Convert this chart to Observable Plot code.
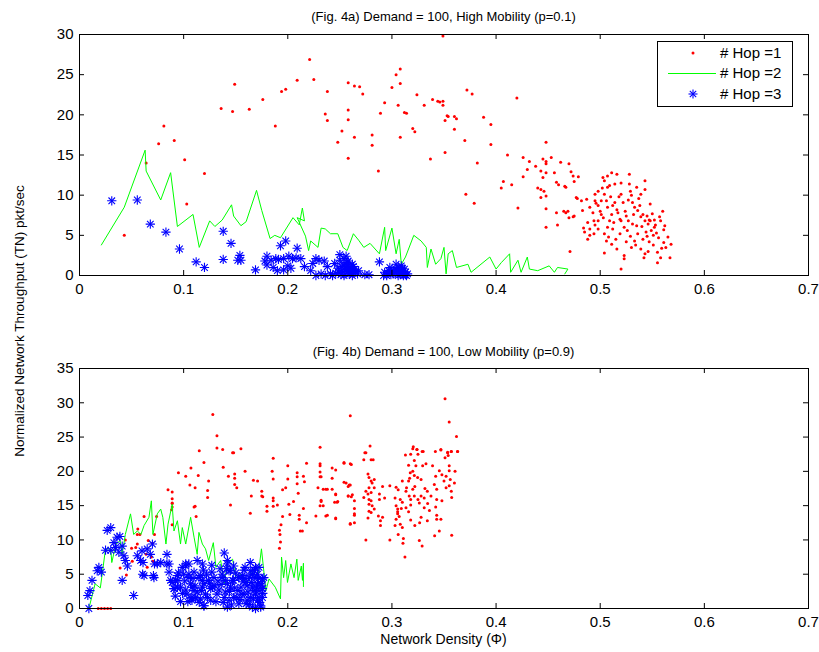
<!DOCTYPE html>
<html><head><meta charset="utf-8">
<script src="https://cdn.jsdelivr.net/npm/d3@7"></script>
<script src="https://cdn.jsdelivr.net/npm/@observablehq/plot@0.6"></script>
<style>
body{margin:0;background:#fff;}
#wrap{position:relative;width:819px;height:652px;font-family:"Liberation Sans",Arial,sans-serif;color:#000;}
.t{position:absolute;white-space:nowrap;line-height:16px;}
#legend{position:absolute;left:657px;top:41px;width:134px;height:64px;border:1px solid #000;background:#fff;}
#legend .row{position:absolute;left:0;width:134px;height:20px;}
#legend .row span{position:absolute;left:62px;top:2px;font-size:15px;line-height:17px;}
#legend svg{position:absolute;left:0;top:0;}
</style></head>
<body><div id="wrap"></div>
<script>
// ---------- data ----------
const xTicks = [0, 0.1, 0.2, 0.3, 0.4, 0.5, 0.6, 0.7];
const yTicksTop = [0, 5, 10, 15, 20, 25, 30];
const yTicksBottom = [0, 5, 10, 15, 20, 25, 30, 35];
const titleTop = "(Fig. 4a) Demand = 100, High Mobility (p=0.1)";
const titleBottom = "(Fig. 4b) Demand = 100, Low Mobility (p=0.9)";
const xLabel = "Network Density (\u03A6)";
const yLabel = "Normalized Network Throughput (TN) pkt/sec";
const seriesNames = ["# Hop =1", "# Hop =2", "# Hop =3"];

// Fig 4a, hop 1 (red dots)
const topHop1 = [
[0.349,29.8],[0.221,26.9],[0.225,24.4],[0.209,24.3],[0.149,23.8],[0.194,22.9],[0.198,23.2],[0.176,21.9],[0.238,22.9],[0.136,20.8],[0.147,20.4],[0.163,20.7],[0.188,18.6],[0.081,18.6],[0.076,16.4],[0.091,16.8],[0.101,14.4],[0.064,14.0],[0.120,12.7],[0.103,8.9],[0.043,5.0],
[0.258,24.0],[0.264,23.6],[0.269,23.5],[0.272,22.6],[0.236,20.1],[0.238,19.3],[0.258,20.6],[0.258,19.4],[0.252,18.0],[0.248,16.6],[0.264,17.2],[0.258,14.6],[0.281,17.5],[0.281,16.2],[0.287,13.0],[0.289,20.2],[0.293,21.5],[0.300,23.4],[0.304,25.0],[0.308,25.7],[0.308,23.9],[0.306,21.2],[0.312,20.3],[0.314,20.2],[0.308,17.2],[0.320,18.3],[0.322,17.9],[0.324,22.5],[0.331,21.2],[0.339,21.9],[0.344,21.7],[0.346,21.6],[0.349,21.7],[0.349,21.2],[0.353,19.9],[0.351,19.3],[0.337,14.5],[0.351,15.3],
[0.354,19.8],[0.360,19.8],[0.362,19.5],[0.360,18.2],[0.370,16.8],[0.372,23.1],[0.377,22.6],[0.388,19.7],[0.395,18.8],[0.395,16.3],[0.382,14.0],[0.371,10.1],[0.379,9.0],[0.411,15.0],[0.420,22.1],[0.407,11.7],[0.405,10.9],[0.415,11.3],[0.421,8.4],[0.426,14.7],[0.432,14.2],[0.426,12.3],[0.430,13.2],[0.438,13.6],[0.445,14.5],[0.448,14.2],[0.448,13.9],[0.453,14.7],[0.448,16.6],[0.443,13.0],[0.445,12.2],[0.448,12.8],[0.440,10.9],[0.443,10.7],[0.443,9.7],[0.446,10.5],[0.448,9.9],[0.448,8.3],[0.448,6.0],[0.456,12.8],[0.458,11.6],[0.460,11.3],[0.462,14.1],[0.466,11.1],[0.467,11.0],[0.470,13.9],[0.472,12.9],[0.474,12.4],[0.475,11.7],[0.479,12.3],[0.458,7.8],[0.459,6.3],[0.465,8.0],[0.467,7.8],[0.470,7.2],[0.469,8.0],[0.471,3.0],[0.474,7.3],[0.475,7.4],[0.477,9.7],[0.478,9.6],[0.482,9.3],[0.483,8.1],[0.484,5.9],[0.485,5.4],[0.487,9.5],[0.488,6.6],[0.490,5.0],
[0.5026,12.2],[0.507,12.4],[0.511,12.8],[0.504,11.8],[0.509,11.2],[0.507,11.0],[0.498,10.5],[0.495,10.1],[0.504,10.1],[0.506,9.3],[0.501,9.3],[0.495,9.3],[0.490,8.5],[0.493,7.8],[0.498,8.7],[0.501,7.6],[0.498,6.8],[0.495,6.3],[0.494,5.2],[0.490,5.8],[0.507,8.5],[0.511,7.6],[0.512,8.7],[0.514,9.1],[0.516,12.6],[0.514,11.4],[0.520,10.1],[0.522,9.1],[0.517,7.8],[0.509,6.8],[0.507,6.0],[0.512,5.8],[0.504,5.2],[0.506,4.3],[0.504,2.8],[0.511,3.9],[0.515,4.5],[0.519,5.2],[0.520,6.8],[0.523,6.0],[0.525,7.4],[0.528,12.6],[0.528,11.4],[0.529,10.5],[0.530,10.0],[0.531,9.1],[0.533,8.5],[0.531,6.4],[0.535,6.2],[0.536,5.2],[0.533,4.3],[0.530,3.5],[0.525,4.2],[0.523,2.5],[0.520,0.8],[0.523,2.1],[0.539,10.1],[0.543,11.8],[0.543,10.7],[0.538,8.7],[0.541,7.6],[0.539,7.3],[0.543,6.8],[0.546,6.4],[0.547,6.9],[0.548,8.9],[0.548,6.8],[0.544,5.4],[0.541,4.5],[0.539,3.3],[0.543,2.7],[0.542,2.2],[0.546,3.0],[0.547,4.2],[0.551,5.0],[0.552,6.0],[0.553,6.3],[0.556,4.7],[0.555,2.9],[0.558,2.2],[0.555,1.6],[0.560,8.0],[0.561,5.7],[0.561,4.1],[0.563,3.5],[0.568,3.9],[0.567,2.2],[0.557,7.3],[0.558,6.8],[0.552,6.9],[0.494,6.8],[0.488,4.5],[0.498,5.8],
[0.500,8.0],[0.503,7.2],[0.510,9.8],[0.516,8.2],[0.519,7.0],[0.524,8.0],[0.527,6.8],[0.532,7.6],[0.536,8.1],[0.537,9.6],[0.540,6.1],[0.545,7.4],[0.549,5.6],[0.554,5.3],[0.526,5.6],[0.529,4.9],[0.534,3.8],[0.545,4.9],[0.513,6.6],[0.518,9.8],[0.502,10.9],[0.496,9.0],[0.520,11.5],[0.535,11.0],[0.527,9.4],[0.550,7.7],[0.562,6.2],[0.565,4.8],[0.559,3.4],[0.551,3.8],[0.516,3.3],[0.508,4.8]
];

// Fig 4a, hop 2 (green line, in plotting order)
const topHop2 = [
[0.021,3.8],[0.043,8.5],[0.063,15.6],[0.064,13.0],[0.078,9.4],[0.0875,12.8],[0.094,6.1],[0.109,7.6],[0.115,3.5],[0.125,6.8],[0.130,6.1],[0.137,6.9],[0.146,8.8],[0.148,7.4],[0.155,6.2],[0.160,6.7],[0.170,10.6],[0.175,8.1],[0.183,4.6],[0.1875,5.0],[0.193,4.7],[0.205,7.2],[0.211,6.3],[0.214,8.4],[0.216,6.8],[0.209,7.2],[0.217,4.9],[0.220,3.1],[0.222,4.3],[0.229,3.5],[0.232,5.9],[0.236,5.8],[0.241,5.2],[0.248,5.2],[0.253,3.5],[0.257,3.1],[0.263,5.2],[0.268,4.4],[0.273,3.5],[0.279,4.0],[0.288,2.7],[0.293,6.0],[0.294,3.1],[0.300,5.9],[0.304,2.7],[0.307,4.5],[0.309,1.4],[0.313,2.3],[0.321,5.0],[0.328,4.3],[0.333,3.5],[0.334,1.0],[0.3375,3.3],[0.342,1.4],[0.347,2.1],[0.350,3.5],[0.352,0.2],[0.354,2.7],[0.358,3.1],[0.362,1.0],[0.373,1.4],[0.376,0.4],[0.394,2.3],[0.400,0.8],[0.405,1.6],[0.413,2.7],[0.414,0.4],[0.421,1.9],[0.424,0.4],[0.430,2.3],[0.432,0.8],[0.440,0.6],[0.451,1.2],[0.456,0.4],[0.459,1.0],[0.469,0.8],[0.466,0.2]
];

// Fig 4a, hop 3 (blue asterisks)
const topHop3 = [
[0.031,9.3],[0.0555,9.4],[0.068,6.4],[0.083,5.4],[0.096,3.3],[0.112,1.7],[0.120,1.0],[0.138,5.5],[0.1455,4.0],[0.138,2.0],[0.154,2.5],[0.155,1.9],[0.152,1.9],[0.169,0.7],[0.180,2.4],[0.180,1.3],[0.186,1.0],[0.1885,2.1],[0.193,3.7],[0.198,4.3],[0.196,2.1],[0.200,1.2],[0.196,0.7],[0.2045,2.1],[0.209,3.4],[0.2125,2.1],[0.216,1.1],[0.222,0.6],[0.227,2.1],[0.230,1.9],[0.235,1.8],[0.238,1.1],[0.232,0.2],[0.241,0.2],[0.250,1.9],[0.254,2.1],[0.257,1.6],[0.259,1.0],[0.252,0.6],[0.260,0.4],[0.264,0.8],[0.267,0.2],[0.255,0.2],[0.262,1.4],[0.274,0.1],[0.278,0.1],[0.288,1.7],[0.293,0.4],[0.297,0.6],[0.301,0.2],[0.304,0.8],[0.307,0.4],[0.310,0.2],[0.313,0.4],[0.314,0.0],[0.306,0.0],[0.315,0.2],[0.295,0.0],
[0.248,0.9],[0.253,1.3],[0.258,0.5],[0.261,0.9],[0.256,1.1],[0.263,0.3],[0.246,0.3],[0.251,0.1],[0.300,0.7],[0.303,0.3],[0.309,0.6],[0.311,0.0],[0.299,0.1],[0.306,1.0],[0.312,0.8],[0.243,0.0],[0.236,0.0],[0.227,0.0],[0.184,1.9],[0.191,2.0],[0.201,2.4],[0.208,2.2],[0.203,0.9],[0.178,1.8],[0.190,0.6],[0.224,1.5],
[0.245,1.5],[0.249,0.4],[0.252,1.1],[0.255,0.7],[0.257,1.3],[0.259,0.2],[0.261,0.6],[0.263,1.1],[0.265,0.5],[0.258,1.8],[0.254,0.0],[0.262,0.0],[0.268,0.6],[0.256,2.4],[0.250,2.6],[0.302,0.5],[0.305,0.6],[0.308,0.1],[0.310,0.9],[0.313,0.1],[0.296,0.3],[0.292,0.0],[0.298,1.0],[0.304,1.4],[0.309,1.2]
];

// Fig 4b, hop 1 (red dots)
const botHop1 = [
[0.018,0],[0.021,0],[0.024,0],[0.027,0],[0.030,0],
[0.351,30.6],[0.355,27.2],[0.260,28.1],[0.128,28.3],[0.132,25.2],[0.362,25.1],[0.132,23.4],[0.1375,23.2],[0.115,23.0],[0.147,22.7],[0.148,22.7],[0.155,23.3],[0.231,23.5],[0.274,22.7],[0.279,23.7],[0.282,21.7],[0.313,22.4],[0.320,23.3],[0.324,23.2],[0.330,22.9],[0.347,23.2],[0.3535,22.8],[0.357,22.9],[0.363,22.9],[0.354,22.3],[0.351,22.0],
[0.1195,21.3],[0.107,20.5],[0.095,19.8],[0.102,19.3],[0.114,19.4],[0.106,18.0],[0.111,17.6],[0.124,18.6],[0.123,17.2],[0.085,17.3],[0.089,17.0],[0.089,16.0],[0.089,15.4],[0.089,14.8],[0.111,14.9],[0.112,13.4],[0.123,16.2],[0.138,20.6],[0.143,19.3],[0.149,19.6],[0.149,19.0],[0.151,17.6],[0.149,18.1],[0.159,20.0],[0.145,15.1],[0.164,13.9],[0.165,16.4],[0.167,18.7],[0.171,18.6],[0.175,17.1],[0.175,16.4],[0.176,16.3],[0.186,21.9],[0.180,14.9],[0.180,14.2],[0.185,20.0],[0.186,18.9],[0.186,16.1],[0.186,15.7],[0.186,14.9],[0.190,15.1],[0.192,11.4],[0.1935,12.2],[0.1925,10.8],[0.193,9.7],[0.192,8.8],[0.195,17.3],[0.195,13.4],[0.198,17.6],[0.200,18.9],[0.200,20.8],[0.201,15.2],[0.202,13.7],[0.2055,15.6],[0.209,19.8],[0.209,19.2],[0.209,18.2],[0.210,16.8],[0.211,13.6],[0.212,11.3],[0.214,11.3],[0.211,13.0],[0.215,19.3],[0.216,18.5],[0.218,21.2],[0.218,12.5],[0.215,14.6],[0.227,13.5],[0.229,17.6],[0.231,21.1],[0.231,20.8],[0.231,19.9],[0.231,19.2],[0.232,15.8],[0.231,15.0],[0.2365,17.4],[0.2365,13.5],[0.2426,20.5],[0.246,16.6],[0.2474,15.5],[0.246,13.2],[0.2426,17.4],[0.254,21.2],[0.256,18.3],[0.259,18.0],[0.260,18.0],[0.258,16.4],[0.261,21.0],[0.261,16.3],[0.260,12.3],[0.264,15.7],[0.264,13.8],[0.264,12.5],
[0.275,22.7],[0.273,21.7],[0.280,21.7],[0.254,21.3],[0.260,21.1],[0.246,20.2],[0.232,19.2],[0.2426,19.0],[0.254,18.4],[0.258,17.8],[0.238,17.4],[0.234,17.4],[0.246,16.7],[0.258,16.4],[0.262,16.6],[0.232,15.6],[0.245,15.5],[0.248,15.6],[0.234,15.0],[0.264,14.6],[0.264,13.6],[0.238,13.6],[0.246,13.1],[0.260,12.4],[0.275,10.0],
[0.277,19.6],[0.278,19.1],[0.280,18.6],[0.283,18.8],[0.281,18.3],[0.278,17.6],[0.275,17.1],[0.277,16.7],[0.280,16.9],[0.283,17.6],[0.278,15.9],[0.280,15.7],[0.278,15.2],[0.281,15.0],[0.283,14.5],[0.278,14.2],[0.280,14.0],[0.277,13.2],[0.273,16.2],[0.287,13.5],[0.289,12.8],[0.289,12.1],[0.291,13.3],[0.288,15.9],[0.288,16.7],[0.293,16.1],[0.291,17.8],[0.298,17.9],[0.298,10.0],[0.303,16.1],[0.304,17.7],[0.306,17.3],[0.310,18.6],[0.308,15.9],[0.310,15.5],[0.304,15.0],
[0.3055,14.5],[0.3055,14.1],[0.3055,13.8],[0.309,14.6],[0.3135,14.7],[0.307,13.4],[0.304,13.0],[0.303,12.1],[0.308,12.3],[0.310,11.8],[0.306,10.8],[0.311,10.2],[0.3106,9.5],[0.3125,7.5],[0.3135,17.1],[0.314,17.6],[0.3166,16.4],[0.316,18.6],[0.317,19.0],[0.3176,19.8],[0.316,20.9],[0.318,22.5],[0.3205,23.6],[0.324,23.2],[0.325,22.5],[0.329,22.9],[0.3215,21.6],[0.323,20.8],[0.320,20.0],[0.3215,19.4],[0.322,17.8],[0.320,17.4],[0.318,15.9],[0.3215,16.4],[0.318,15.1],[0.316,14.1],[0.318,12.9],[0.322,12.1],[0.3266,12.5],[0.3263,9.9],[0.329,9.1],
[0.3247,19.1],[0.328,18.8],[0.3295,20.8],[0.3327,21.1],[0.3317,17.5],[0.334,17.1],[0.328,16.4],[0.325,15.9],[0.3263,15.4],[0.331,16.1],[0.3343,15.3],[0.331,14.7],[0.336,14.3],[0.328,13.3],[0.334,12.8],[0.339,20.8],[0.342,19.3],[0.3407,18.1],[0.3375,16.4],[0.343,17.4],[0.343,15.9],[0.342,14.8],[0.3455,20.1],[0.348,19.5],[0.3417,22.9],[0.347,23.1],[0.343,13.6],[0.343,13.0],[0.347,13.0],[0.341,10.6],[0.3455,11.3],[0.348,15.7],[0.350,18.6],[0.352,19.3],[0.355,20.8],[0.355,20.1],[0.3535,22.7],[0.357,22.9],[0.356,18.8],[0.355,17.9],[0.357,17.1],[0.3574,16.2],[0.352,17.6],[0.360,18.3],[0.3606,20.0],[0.3574,10.7],[0.363,22.9],
[0.089,15.3],[0.0885,14.4],[0.110,14.8],[0.062,13.4],[0.074,13.4],[0.089,12.2],[0.056,11.6],[0.0555,10.8],[0.058,10.8],[0.072,10.8],[0.066,9.9],[0.070,9.5],[0.0555,9.4],[0.054,8.9],[0.050,8.8],[0.044,10.0],[0.069,7.5],[0.0705,6.9],[0.065,6.0],[0.0507,6.9],[0.045,4.9],[0.039,5.9],[0.064,7.9]
];

// Fig 4b, hop 2 (green line, in plotting order)
const botHop2 = [
[0.003,0],[0.009,0],[0.015,3.6],[0.020,3.0],[0.025,8.7],[0.030,8.7],[0.031,6.7],[0.035,9.4],[0.039,9.9],[0.041,7.9],[0.044,10.8],[0.049,13.8],[0.052,10.8],[0.0555,11.3],[0.059,10.8],[0.062,12.1],[0.0667,13.3],[0.069,15.7],[0.0705,10.8],[0.0747,13.8],[0.078,14.5],[0.080,13.3],[0.083,9.4],[0.085,12.3],[0.089,15.2],[0.0907,11.3],[0.094,12.8],[0.097,9.4],[0.0987,11.8],[0.102,9.4],[0.1067,13.3],[0.110,10.4],[0.113,7.9],[0.1147,11.1],[0.118,9.4],[0.121,8.7],[0.124,7.0],[0.1285,9.6],[0.131,6.0],[0.1356,7.0],[0.139,3.6],[0.142,6.5],[0.147,7.2],[0.150,4.5],[0.155,5.0],[0.161,3.6],[0.166,5.8],[0.171,4.1],[0.1747,8.7],[0.1766,6.0],[0.179,2.6],[0.182,4.3],[0.188,3.1],[0.193,1.4],[0.194,7.5],[0.196,4.5],[0.198,7.0],[0.1997,3.8],[0.203,6.5],[0.206,4.5],[0.2087,7.2],[0.210,4.1],[0.213,6.2],[0.2141,4.1],[0.215,6.6],[0.215,3.2]
];

// Fig 4b, hop 3 (blue asterisks)
const botHop3 = [
[0.009,0],[0.008,1.9],[0.010,2.6],[0.012,4.1],[0.017,5.5],[0.0186,6.0],[0.021,5.3],[0.0266,11.4],[0.030,11.8],[0.025,8.5],[0.030,8.5],[0.033,9.6],[0.036,10.4],[0.0388,10.5],[0.0346,8.9],[0.0378,8.2],[0.041,9.1],[0.0426,7.7],[0.044,7.0],[0.046,6.2],[0.041,4.1],[0.052,1.9],[0.0555,7.7],[0.0587,7.0],[0.060,8.4],[0.062,4.8],[0.065,8.7],[0.068,7.9],[0.070,9.4],[0.0715,4.5],[0.0747,6.5],[0.086,6.5],[0.086,5.3],[0.089,3.8],[0.0907,2.9],[0.0923,4.1],[0.094,3.1],[0.0987,6.0],[0.102,6.2],[0.105,6.5],[0.105,4.5],[0.1067,3.6],[0.102,2.7],[0.108,1.6],[0.113,2.4],[0.116,4.8],[0.118,3.1],
[0.084,7.9],[0.078,6.7],[0.072,6.5],[0.061,6.7],[0.0606,5.0],[0.071,4.8],[0.084,6.5],[0.0945,4.1],[0.113,7.0],[0.139,8.1],[0.142,7.0],[0.164,6.7],[0.169,6.0],[0.159,6.0],
[0.110,5.3],[0.1147,4.5],[0.1195,3.6],[0.124,4.1],[0.1276,3.1],[0.121,2.1],[0.116,1.4],[0.126,1.2],[0.1195,0.4],[0.110,2.6],[0.108,1.2],[0.142,6.5],[0.145,5.5],[0.137,4.5],[0.142,3.6],[0.147,4.1],[0.140,2.4],[0.1436,1.2],[0.148,1.6],[0.153,4.5],[0.1564,4.8],[0.160,3.8],[0.155,3.1],[0.158,2.1],[0.153,0.7],[0.161,1.2],[0.1644,5.5],[0.1676,4.5],[0.166,3.1],[0.169,2.1],[0.1724,2.6],[0.171,1.2],[0.174,0.4],[0.166,0.2],[0.169,0],[0.1757,1.6],[0.174,3.6],[0.171,5.0],[0.1757,4.3],[0.1724,6.0],
[0.0875,4.1],[0.0907,2.9],[0.094,4.8],[0.097,3.1],[0.102,6.5],[0.105,5.0],[0.103,2.1],[0.108,3.1],[0.1115,1.6],[0.107,1.5],[0.118,4.1],[0.1195,0.4],[0.126,2.9],[0.129,4.5],[0.132,2.1],[0.137,5.0],[0.139,1.6],[0.1436,5.5],[0.145,3.1],[0.148,4.1],[0.142,0.2],[0.153,4.5],[0.156,2.1],[0.160,0.7],[0.161,3.3],[0.166,5.0],[0.1676,2.6],[0.171,3.6],[0.1724,1.6],[0.174,0.2],[0.1757,2.9],[0.177,4.5],[0.164,1.6],[0.151,1.6],
[0.092,1.8],[0.095,5.2],[0.099,2.2],[0.101,4.0],[0.104,1.0],[0.109,4.4],[0.111,3.3],[0.115,0.9],[0.117,2.6],[0.119,5.6],[0.122,4.9],[0.123,1.6],[0.125,3.7],[0.127,5.3],[0.130,3.3],[0.131,1.0],[0.133,4.0],[0.134,2.7],[0.136,3.5],[0.138,0.9],[0.140,4.1],[0.141,5.8],[0.144,2.5],[0.146,0.5],[0.149,3.0],[0.150,5.2],[0.152,2.6],[0.154,1.3],[0.157,3.9],[0.159,4.4],[0.162,2.4],[0.163,0.6],[0.165,3.8],[0.167,1.4],[0.168,5.5],[0.170,3.0],[0.172,4.4],[0.173,0.9],[0.175,3.4],[0.176,2.2],[0.163,4.6],[0.158,5.6],[0.148,6.2],[0.135,5.8],[0.127,6.3],[0.118,6.5],[0.100,5.0],[0.097,1.0]
];

// ---------- drawing ----------
const FONT = '"Liberation Sans", Arial, sans-serif';
const fmt = d => d3.format("~g")(d);
const RED = "#ff0000", GREEN = "#00ff00", BLUE = "#0000ff";
const W = 819, ML = 79, MR = 11, TICK = 5;

function panel(h1, h2, h3, yTicks, height, mt, mb) {
  const X = d => d[0], Y = d => d[1];
  const fh = height - mt - mb, fw = W - ML - MR;
  return Plot.plot({
    width: W, height,
    marginLeft: ML, marginRight: MR, marginTop: mt, marginBottom: mb,
    style: {fontFamily: FONT, fontSize: "15px", background: "white", color: "black", overflow: "visible"},
    x: {domain: [0, 0.7]},
    y: {domain: [yTicks[0], yTicks[yTicks.length - 1]]},
    marks: [
      Plot.dot(h1, {x: X, y: Y, r: 1.5, fill: RED, stroke: "none"}),
      Plot.line(h2, {x: X, y: Y, stroke: GREEN, strokeWidth: 1, curve: "linear"}),
      Plot.dot(h3, {x: X, y: Y, symbol: "plus", r: 3.1, stroke: BLUE, strokeWidth: 1.1}),
      Plot.dot(h3, {x: X, y: Y, symbol: "times", r: 3.1, stroke: BLUE, strokeWidth: 1.1}),
      // inward tick marks on all four sides (box on)
      Plot.ruleX(xTicks, {x: d => d, insetTop: fh - TICK, stroke: "black"}),
      Plot.ruleX(xTicks, {x: d => d, insetBottom: fh - TICK, stroke: "black"}),
      Plot.ruleY(yTicks, {y: d => d, insetRight: fw - TICK, stroke: "black"}),
      Plot.ruleY(yTicks, {y: d => d, insetLeft: fw - TICK, stroke: "black"}),
      Plot.frame({stroke: "black", strokeWidth: 1}),
      Plot.axisX(xTicks, {anchor: "bottom", tickSize: 0, tickPadding: 8, tickFormat: fmt, label: null, fontSize: 15}),
      Plot.axisY(yTicks, {anchor: "left", tickSize: 0, tickPadding: 6, tickFormat: fmt, label: null, fontSize: 15})
    ]
  });
}

const wrap = document.getElementById("wrap");
const topPlot = panel(topHop1, topHop2, topHop3, yTicksTop, 310, 34, 35);
topPlot.style.position = "absolute"; topPlot.style.left = "0px"; topPlot.style.top = "0px";
wrap.appendChild(topPlot);
const botPlot = panel(botHop1, botHop2, botHop3, yTicksBottom, 342, 58, 44);
botPlot.style.position = "absolute"; botPlot.style.left = "0px"; botPlot.style.top = "310px";
wrap.appendChild(botPlot);

function addText(txt, x, y, size, rotate) {
  const d = document.createElement("div");
  d.className = "t";
  d.textContent = txt;
  d.style.fontSize = size + "px";
  d.style.left = x + "px";
  d.style.top = y + "px";
  d.style.transform = rotate ? "translate(-50%,-50%) rotate(-90deg)" : "translate(-50%,-50%)";
  wrap.appendChild(d);
}
addText(titleTop, 443.5, 17, 13);
addText(titleBottom, 443.5, 352, 13);
addText(xLabel, 443.5, 639, 14);
addText(yLabel, 20, 321, 13.5, true);

// legend
const lg = document.createElement("div");
lg.id = "legend";
const ns = "http://www.w3.org/2000/svg";
const svg = document.createElementNS(ns, "svg");
svg.setAttribute("width", 134); svg.setAttribute("height", 64);
svg.innerHTML =
  `<circle cx="35" cy="11" r="1.5" fill="${RED}"/>` +
  `<line x1="10" y1="31.5" x2="58" y2="31.5" stroke="${GREEN}" stroke-width="1"/>` +
  `<g stroke="${BLUE}" stroke-width="1.1"><line x1="30.5" y1="52" x2="39.5" y2="52"/><line x1="35" y1="47.5" x2="35" y2="56.5"/><line x1="31.8" y1="48.8" x2="38.2" y2="55.2"/><line x1="31.8" y1="55.2" x2="38.2" y2="48.8"/></g>`;
lg.appendChild(svg);
seriesNames.forEach((n, i) => {
  const r = document.createElement("div");
  r.className = "row";
  r.style.top = (i * 20.3) + "px";
  const s = document.createElement("span");
  s.textContent = n;
  r.appendChild(s);
  lg.appendChild(r);
});
wrap.appendChild(lg);
</script>
</body></html>
